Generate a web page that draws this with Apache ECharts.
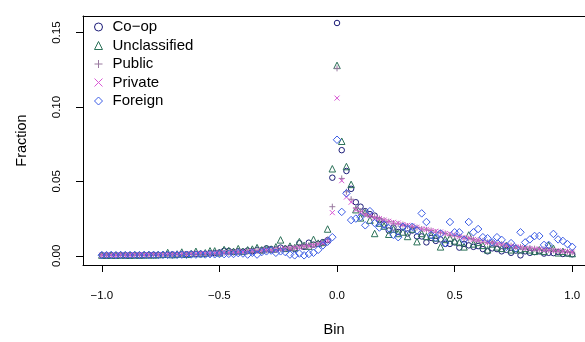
<!DOCTYPE html>
<html>
<head>
<meta charset="utf-8">
<script src="https://cdn.jsdelivr.net/npm/echarts@6/dist/echarts.min.js"></script>
<style>
  html, body { margin: 0; padding: 0; background: #fff; }
  #chart { width: 585px; height: 342px; }
</style>
</head>
<body>
<div id="chart"></div>
<script>
// Bins run from -1 to 1 in steps of 0.02 (101 bins)
const BIN_START = -1;
const BIN_STEP = 0.02;
const BIN_COUNT = 101;

const xTicks = [-1, -0.5, 0, 0.5, 1];
const yTicks = [0, 0.05, 0.10, 0.15];

const seriesNames = ['Co\u2212op', 'Unclassified', 'Public', 'Private', 'Foreign'];

const coop = [
  0.0004,0.0003,0.0004,0.0003,0.0004,0.0005,0.0004,0.0005,0.0004,0.0005,
  0.0006,0.0005,0.0006,0.0007,0.0006,0.0008,0.0007,0.0009,0.0010,0.0011,
  0.0012,0.0014,0.0013,0.0016,0.0018,0.0022,0.0034,0.0032,0.0025,0.0030,
  0.0028,0.0035,0.0031,0.0040,0.0037,0.0050,0.0045,0.0042,0.0055,0.0048,
  0.0052,0.0046,0.0085,0.0060,0.0088,0.0075,0.0080,0.0092,0.0105,0.0525,
  0.1565,0.071,0.057,0.045,0.036,0.033,0.030,0.028,0.027,0.024,
  0.021,0.017,0.019,0.016,0.019,0.015,0.017,0.013,0.013,0.009,
  0.012,0.010,0.011,0.008,0.008,0.009,0.0055,0.008,0.007,0.006,
  0.0065,0.0045,0.003,0.005,0.0045,0.003,0.004,0.002,0.0035,0.0003,
  0.003,0.002,0.0025,0.003,0.0015,0.002,0.0018,0.0025,0.0012,0.0015,
  0.0010
];

const unclassified = [
  0.0005,0.0004,0.0005,0.0004,0.0006,0.0005,0.0004,0.0006,0.0005,0.0006,
  0.0007,0.0006,0.0008,0.0010,0.0022,0.0008,0.0012,0.0025,0.0010,0.0015,
  0.0030,0.0015,0.0020,0.0033,0.0033,0.0020,0.0042,0.0035,0.0030,0.0048,
  0.0030,0.0040,0.0045,0.0055,0.0040,0.0050,0.0045,0.0060,0.0107,0.0050,
  0.0065,0.0055,0.0095,0.0070,0.0065,0.0110,0.0085,0.0090,0.0180,0.0585,
  0.128,0.077,0.060,0.048,0.031,0.0255,0.029,0.024,0.015,0.022,
  0.020,0.0145,0.018,0.015,0.016,0.013,0.018,0.0095,0.015,0.013,
  0.014,0.012,0.006,0.011,0.012,0.010,0.009,0.006,0.014,0.008,
  0.009,0.007,0.004,0.008,0.006,0.005,0.007,0.004,0.005,0.004,
  0.005,0.004,0.003,0.004,0.003,0.007,0.005,0.002,0.003,0.002,
  0.0015
];

const publicSector = [
  0.0005,0.0005,0.0004,0.0005,0.0005,0.0006,0.0005,0.0006,0.0006,0.0007,
  0.0007,0.0008,0.0008,0.0009,0.0009,0.0010,0.0010,0.0011,0.0012,0.0012,
  0.0013,0.0014,0.0015,0.0016,0.0017,0.0018,0.0020,0.0021,0.0023,0.0024,
  0.0026,0.0028,0.0030,0.0032,0.0034,0.0036,0.0039,0.0042,0.0045,0.0048,
  0.0052,0.0055,0.0060,0.0064,0.0068,0.0074,0.0080,0.0088,0.0110,0.033,
  0.126,0.052,0.043,0.038,0.032,0.030,0.028,0.027,0.026,0.025,
  0.024,0.023,0.022,0.0215,0.021,0.020,0.0195,0.019,0.018,0.0175,
  0.017,0.016,0.0155,0.015,0.014,0.0135,0.013,0.012,0.0115,0.011,
  0.0105,0.010,0.009,0.0088,0.008,0.0078,0.007,0.0068,0.006,0.0058,
  0.005,0.0052,0.0048,0.0042,0.0043,0.0038,0.0036,0.0031,0.0030,0.0028,
  0.0024
];

const privateSector = [
  0.0004,0.0005,0.0005,0.0004,0.0006,0.0005,0.0006,0.0006,0.0007,0.0006,
  0.0007,0.0008,0.0007,0.0009,0.0010,0.0009,0.0011,0.0012,0.0011,0.0013,
  0.0014,0.0015,0.0014,0.0017,0.0018,0.0019,0.0022,0.0021,0.0024,0.0026,
  0.0025,0.0029,0.0031,0.0030,0.0035,0.0037,0.0036,0.0041,0.0044,0.0047,
  0.0050,0.0054,0.0057,0.0062,0.0066,0.0071,0.0078,0.0085,0.0100,0.029,
  0.106,0.0505,0.0395,0.036,0.031,0.029,0.0275,0.027,0.0255,0.025,
  0.024,0.0232,0.0225,0.022,0.021,0.0205,0.020,0.0192,0.018,0.0178,
  0.017,0.0165,0.016,0.015,0.0148,0.014,0.013,0.0122,0.0118,0.011,
  0.0105,0.0098,0.009,0.0088,0.008,0.0076,0.007,0.0066,0.006,0.0056,
  0.005,0.0049,0.0045,0.0044,0.004,0.0039,0.0035,0.0034,0.003,0.0029,
  0.0025
];

const foreign = [
  0.0004,0.0004,0.0005,0.0004,0.0005,0.0004,0.0005,0.0005,0.0004,0.0005,
  0.0005,0.0006,0.0005,0.0006,0.0006,0.0007,0.0006,0.0008,0.0007,0.0009,
  0.0008,0.0010,0.0009,0.0011,0.0010,0.0012,0.0011,0.0013,0.0012,0.0018,
  0.0015,0.0008,0.0020,0.0008,0.0025,0.0030,0.0035,0.0020,0.0030,0.0025,
  0.0008,0.0003,0.0015,0.0003,0.0012,0.0020,0.0040,0.0070,0.0095,0.0125,
  0.078,0.0295,0.042,0.024,0.025,0.026,0.0205,0.030,0.022,0.019,
  0.021,0.0185,0.014,0.0125,0.0195,0.018,0.0195,0.017,0.0285,0.0227,
  0.014,0.012,0.015,0.0085,0.0227,0.0158,0.0158,0.0107,0.0227,0.0158,
  0.018,0.0125,0.0118,0.009,0.0125,0.0107,0.006,0.0085,0.005,0.0158,
  0.009,0.011,0.0133,0.0133,0.0073,0.0073,0.0147,0.011,0.010,0.0078,
  0.006
];

const colors = ['#1c1c78', '#2b7158', '#9a7aa0', '#d958d4', '#3d5ee6'];

// Marker shapes: open circle, open triangle, plus, cross, open diamond
const PLUS = 'path://M5,0L5,10M0,5L10,5';
const CROSS = 'path://M0,0L10,10M0,10L10,0';
const symbols = ['circle', 'triangle', PLUS, CROSS, 'diamond'];
const symbolSizes = [5.5, 6.5, 6, 5, 7.5];

const valueSets = [coop, unclassified, publicSector, privateSector, foreign];

const bins = [];
for (let i = 0; i < BIN_COUNT; i++) bins.push(+(BIN_START + i * BIN_STEP).toFixed(2));

// The plotting region runs past the right edge of the canvas, so the
// x range is cut at the visible edge and the frame has no right side.
const X_MIN = -1.08;
const X_MAX = 1.0543;
const Y_MIN = -0.0062;
const Y_MAX = 0.1612;

const FONT = '"Liberation Sans", Arial, Helvetica, sans-serif';
const minusFmt = v => String(v).replace('-', '\u2212');
const frameLine = { show: true, onZero: false, lineStyle: { color: '#000', width: 1 } };

const series = seriesNames.map((name, k) => ({
  type: 'scatter',
  name: name,
  symbol: symbols[k],
  symbolSize: symbolSizes[k],
  silent: true,
  itemStyle: { color: 'transparent', borderColor: colors[k], borderWidth: 1, opacity: 1 },
  data: bins.map((b, i) => [b, valueSets[k][i]])
}));

const chart = echarts.init(document.getElementById('chart'), null, { renderer: 'canvas' });
chart.setOption({
  animation: false,
  backgroundColor: '#fff',
  textStyle: { fontFamily: FONT },
  grid: { left: 83, top: 16, right: 0, height: 249, show: false },
  legend: {
    orient: 'vertical',
    left: 89, top: 14,
    itemWidth: 8, itemHeight: 8, itemGap: 2.5,
    selectedMode: false,
    textStyle: { fontSize: 15, color: '#000', lineHeight: 16, fontFamily: FONT, padding: [0, 0, 0, 5] },
    data: seriesNames.map((name, k) => ({
      name: name,
      icon: symbols[k],
      itemStyle: { color: 'transparent', borderColor: colors[k], borderWidth: 1 }
    }))
  },
  xAxis: [{
    type: 'value', min: X_MIN, max: X_MAX, position: 'bottom',
    axisLine: frameLine,
    splitLine: { show: false },
    axisTick: { show: true, length: 7, customValues: xTicks, lineStyle: { color: '#000', width: 1 } },
    axisLabel: {
      customValues: xTicks, margin: 25, fontSize: 11.5, color: '#000', fontFamily: FONT,
      formatter: v => minusFmt(Number(v).toFixed(1))
    },
    name: 'Bin', nameLocation: 'middle', nameGap: 57,
    nameTextStyle: { fontSize: 14.5, color: '#000', fontFamily: FONT }
  }, {
    type: 'value', min: X_MIN, max: X_MAX, position: 'top',
    axisLine: frameLine,
    axisTick: { show: false }, axisLabel: { show: false }, splitLine: { show: false }
  }],
  yAxis: {
    type: 'value', min: Y_MIN, max: Y_MAX,
    axisLine: frameLine,
    splitLine: { show: false },
    axisTick: { show: true, length: 7, customValues: yTicks, lineStyle: { color: '#000', width: 1 } },
    axisLabel: {
      customValues: yTicks, margin: 20, rotate: 90, fontSize: 11.5, color: '#000', fontFamily: FONT,
      formatter: v => Number(v).toFixed(2)
    },
    name: 'Fraction', nameLocation: 'middle', nameGap: 54,
    nameTextStyle: { fontSize: 14.5, color: '#000', fontFamily: FONT }
  },
  series: series
});
</script>
</body>
</html>
